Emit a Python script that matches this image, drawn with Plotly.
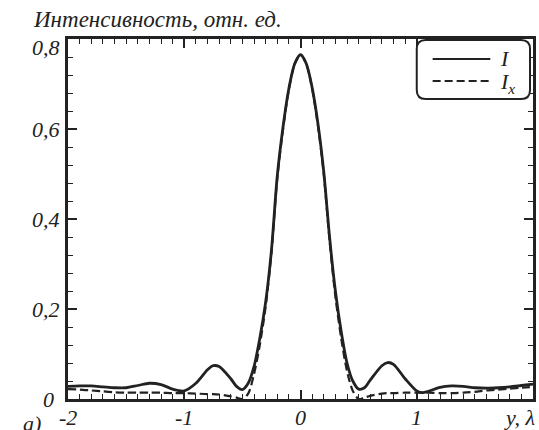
import plotly.graph_objects as go

# Data
y_pos = [-2.0, -1.9, -1.8, -1.7, -1.6, -1.5, -1.4, -1.3, -1.2, -1.1, -1.0, -0.9, -0.8, -0.75, -0.7,
         -0.6, -0.55, -0.5, -0.45, -0.4, -0.35, -0.3, -0.25, -0.2, -0.15, -0.1, -0.05, 0.0,
         0.05, 0.1, 0.15, 0.2, 0.25, 0.3, 0.35, 0.4, 0.45, 0.5, 0.55, 0.6, 0.7, 0.75, 0.8,
         0.9, 1.0, 1.05, 1.1, 1.2, 1.3, 1.4, 1.5, 1.6, 1.7, 1.8, 1.9, 2.0]

I_total = [0.028, 0.029, 0.029, 0.027, 0.025, 0.025, 0.030, 0.035, 0.032, 0.022, 0.018, 0.035, 0.065, 0.074, 0.072,
           0.045, 0.028, 0.021, 0.035, 0.072, 0.135, 0.215, 0.33, 0.495, 0.605, 0.69, 0.745, 0.765,
           0.745, 0.692, 0.612, 0.505, 0.36, 0.24, 0.15, 0.08, 0.04, 0.022, 0.025, 0.042, 0.074, 0.081, 0.077,
           0.045, 0.018, 0.014, 0.017, 0.026, 0.029, 0.028, 0.025, 0.024, 0.025, 0.027, 0.030, 0.033]

I_x = [0.022, 0.021, 0.019, 0.017, 0.015, 0.014, 0.014, 0.014, 0.014, 0.013, 0.013, 0.012, 0.011, 0.011, 0.010,
       0.006, 0.003, 0.0, 0.012, 0.055, 0.12, 0.205, 0.325, 0.49, 0.60, 0.688, 0.744, 0.765,
       0.744, 0.69, 0.607, 0.50, 0.352, 0.228, 0.135, 0.062, 0.018, 0.0, 0.003, 0.007, 0.012, 0.013, 0.013,
       0.014, 0.014, 0.014, 0.014, 0.013, 0.013, 0.014, 0.016, 0.019, 0.021, 0.023, 0.025, 0.027]

x_tickvals = [-2, -1, 0, 1]
x_ticktext = ["-2", "-1", "0", "1"]
y_tickvals = [0, 0.2, 0.4, 0.6, 0.8]
y_ticktext = ["0", "0,2", "0,4", "0,6", "0,8"]

INK = "#222222"
FONT = "Liberation Serif"
FS = 22

W, H = 539, 430
ML, MR, MT, MB = 68, 3, 39, 31
PW, PH = W - ML - MR, H - MT - MB


def px_x(px):
    return (px - ML) / PW


def px_y(py):
    return (H - MB - py) / PH


fig = go.Figure()
fig.add_trace(go.Scatter(x=y_pos, y=I_total, mode="lines", name="I",
                         line=dict(color=INK, width=2.8, shape="spline", smoothing=0.8)))
fig.add_trace(go.Scatter(x=y_pos, y=I_x, mode="lines", name="Ix",
                         line=dict(color=INK, width=2.2, dash="8px,4px", shape="spline", smoothing=0.8)))

fig.update_xaxes(range=[-2, 2], tick0=0, dtick=1, showticklabels=False,
                 showline=True, linewidth=3, linecolor=INK, mirror="allticks",
                 ticks="inside", ticklen=9, tickwidth=1.5, tickcolor=INK,
                 minor=dict(ticks="inside", ticklen=5, dtick=0.1, tickcolor=INK, tickwidth=1.2),
                 showgrid=False, zeroline=False)
fig.update_yaxes(range=[0, 0.8], tick0=0, dtick=0.2, showticklabels=False,
                 showline=True, linewidth=3, linecolor=INK, mirror="allticks",
                 ticks="inside", ticklen=9, tickwidth=1.5, tickcolor=INK,
                 minor=dict(ticks="inside", ticklen=5, dtick=0.04, tickcolor=INK, tickwidth=1.2),
                 showgrid=False, zeroline=False)

ann_font = dict(family=FONT, size=FS, color=INK, style="italic")

# Tick labels (italic, comma decimal, hyphen minus)
for v, t in zip(x_tickvals, x_ticktext):
    fig.add_annotation(text=t, xref="x", yref="paper", x=v, y=px_y(417),
                       xanchor="center", yanchor="middle", showarrow=False, font=ann_font)
for v, t in zip(y_tickvals, y_ticktext):
    right_px = 56 if t == "0" else 62
    shift = -8 if v == 0.8 else 0
    fig.add_annotation(text=t, xref="paper", yref="y", x=px_x(right_px), y=v, yshift=shift,
                       xanchor="right", yanchor="middle", showarrow=False, font=ann_font)

# Rounded legend box
x0, x1 = px_x(419), px_x(533)
yt, yb = px_y(40), px_y(99)
rx, ry = 9 / PW, 9 / PH
path = (f"M {x0+rx},{yt} L {x1-rx},{yt} Q {x1},{yt} {x1},{yt-ry} "
        f"L {x1},{yb+ry} Q {x1},{yb} {x1-rx},{yb} L {x0+rx},{yb} Q {x0},{yb} {x0},{yb+ry} "
        f"L {x0},{yt-ry} Q {x0},{yt} {x0+rx},{yt} Z")
fig.add_shape(type="path", path=path, xref="paper", yref="paper",
              line=dict(color=INK, width=2), fillcolor="white")
fig.add_shape(type="line", xref="paper", yref="paper", x0=px_x(435), x1=px_x(493), y0=px_y(59), y1=px_y(59),
              line=dict(color=INK, width=2.2))
fig.add_shape(type="line", xref="paper", yref="paper", x0=px_x(435), x1=px_x(493), y0=px_y(81), y1=px_y(81),
              line=dict(color=INK, width=2.2, dash="8px,4px"))

fig.add_annotation(text="I", xref="paper", yref="paper", x=px_x(501), y=px_y(58),
                   xanchor="left", yanchor="middle", showarrow=False, font=ann_font)
fig.add_annotation(text="I<sub>x</sub>", xref="paper", yref="paper", x=px_x(501), y=px_y(83),
                   xanchor="left", yanchor="middle", showarrow=False, font=ann_font)
fig.add_annotation(text="Интенсивность, отн. ед.", xref="paper", yref="paper", x=px_x(31), y=px_y(20),
                   xanchor="left", yanchor="middle", showarrow=False,
                   font=dict(family=FONT, size=23, color=INK, style="italic"))
fig.add_annotation(text="a)", xref="paper", yref="paper", x=px_x(21), y=px_y(423),
                   xanchor="left", yanchor="middle", showarrow=False, font=ann_font)
fig.add_annotation(text="y, λ", xref="paper", yref="paper", x=px_x(540), y=px_y(417),
                   xanchor="right", yanchor="middle", showarrow=False, font=ann_font)

fig.update_layout(width=W, height=H, margin=dict(l=ML, r=MR, t=MT, b=MB),
                  plot_bgcolor="white", paper_bgcolor="white", showlegend=False,
                  font=dict(family=FONT, size=FS, color=INK))

fig.write_html("out.html")
